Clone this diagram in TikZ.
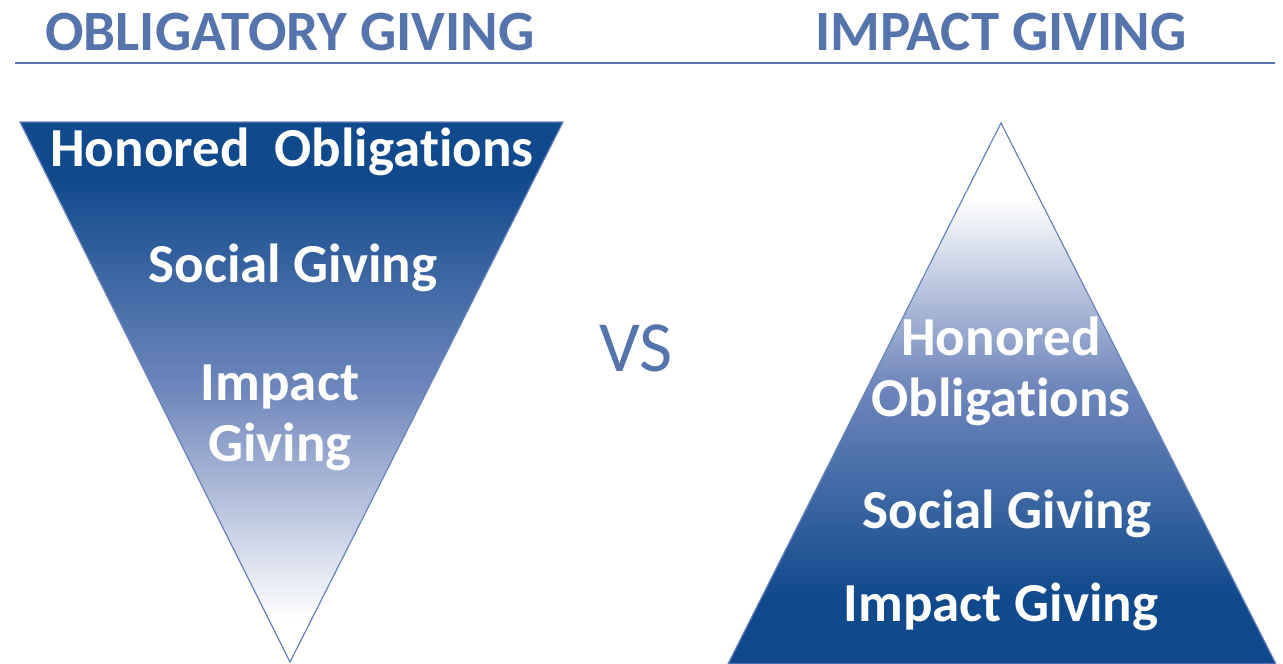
\documentclass[tikz,border=0pt]{standalone}
\usepackage{fontspec}
\setmainfont{Carlito}[Ligatures={NoCommon}]
\definecolor{headblue}{RGB}{86,116,172}
\definecolor{deepblue}{RGB}{16,73,140}
\definecolor{midblue}{RGB}{112,136,188}
\definecolor{edgeblue}{RGB}{104,130,186}
% fills fitted to the shape's box (25bp = bottom, 75bp = top)
\pgfdeclareverticalshading{fadedown}{100bp}{color(0bp)=(white); color(29bp)=(white);
  color(50bp)=(midblue); color(70bp)=(deepblue); color(100bp)=(deepblue)}
\pgfdeclareverticalshading{fadeup}{100bp}{color(0bp)=(deepblue); color(31bp)=(deepblue);
  color(51bp)=(midblue); color(68bp)=(white); color(100bp)=(white)}
\tikzset{
  heading/.style={text=headblue, anchor=base, inner sep=0pt,
    font=\fontsize{57}{57}\selectfont\bfseries},
  tier/.style={text=white, align=center, inner sep=0pt,
    font=\fontsize{55}{61}\selectfont\bfseries},
  rim/.style={draw=edgeblue, line width=1.2pt, line join=miter},
}

\begin{document}
\begin{tikzpicture}[x=1pt,y=-1pt]
  \useasboundingbox (0,0) rectangle (1283,664);

  % headings and the rule under them
  \node[heading] (titleL) at (290,50) {OBLIGATORY GIVING};
  \node[heading] (titleR) at (1001,50) {IMPACT GIVING};
  \draw[headblue, line width=2pt] (15,63) -- (1275,63);

  % inverted triangle, dark at the top
  \shade[rim, shading=fadedown]
    (20,122) -- (563,122) -- (290,662) -- cycle;
  \node[tier] (honL) at (292,152) {Honored\ \ Obligations};
  \node[tier] (socL) at (293,268) {Social Giving};
  \node[tier] (impL) at (280,418) {Impact\\Giving};

  \node[text=headblue, font=\fontsize{72}{72}\selectfont] (vs) at (636,348) {VS};

  % upright triangle, dark at the base
  \shade[rim, shading=fadeup]
    (1001,123) -- (1276,664) -- (728,664) -- cycle;
  \node[tier] (honR) at (1001,371) {Honored\\Obligations};
  \node[tier] (socR) at (1007,514) {Social Giving};
  \node[tier] (impR) at (1001,607) {Impact Giving};
\end{tikzpicture}
\end{document}
